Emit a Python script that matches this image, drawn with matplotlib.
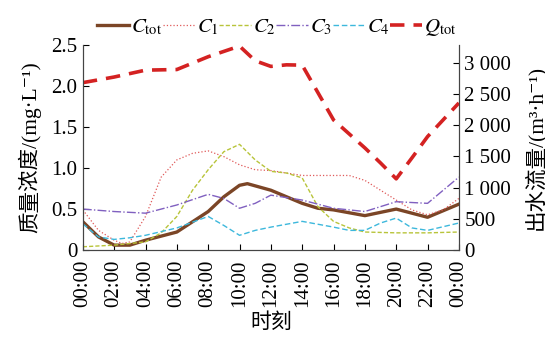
import matplotlib
matplotlib.use("Agg")
import matplotlib.pyplot as plt

plt.rcParams['font.family'] = ['Liberation Serif', 'DejaVu Serif', 'Noto Sans CJK SC']
plt.rcParams['mathtext.fontset'] = 'stix'

hours_tot = [0, 1, 2, 3, 4, 6, 8, 9, 10, 10.5, 12, 14, 15, 16, 18, 20, 22, 24]
c_tot = [0.345, 0.16, 0.06, 0.06, 0.12, 0.22, 0.47, 0.65, 0.79, 0.81, 0.73, 0.57, 0.51, 0.49, 0.42, 0.50, 0.40, 0.56]

hours_c1 = [0, 1, 2, 2.5, 3, 4, 5, 6, 7, 8, 9, 10, 11, 12, 14, 16, 17, 18, 19, 20, 21, 22, 23, 24]
c1 = [0.49, 0.24, 0.12, 0.08, 0.10, 0.41, 0.89, 1.10, 1.18, 1.21, 1.14, 1.04, 0.98, 0.97, 0.91, 0.91, 0.91, 0.85, 0.73, 0.61, 0.49, 0.43, 0.49, 0.63]

hours_c2 = [0, 2, 4, 5, 6, 7, 8, 9, 10, 11, 12, 13, 14, 15, 16, 17, 18, 20, 22, 24]
c2 = [0.04, 0.06, 0.10, 0.21, 0.41, 0.73, 0.98, 1.20, 1.29, 1.10, 0.96, 0.94, 0.88, 0.53, 0.35, 0.27, 0.22, 0.21, 0.21, 0.22]

hours_c3 = [0, 2, 4, 6, 8, 9, 10, 11, 12, 14, 16, 18, 20, 22, 23, 24]
c3 = [0.50, 0.47, 0.45, 0.55, 0.68, 0.63, 0.51, 0.57, 0.67, 0.61, 0.51, 0.47, 0.59, 0.57, 0.73, 0.89]

hours_c4 = [0, 1, 2, 3, 4, 6, 8, 9, 10, 11, 12, 14, 16, 17, 18, 19, 20, 21, 22, 24]
c4 = [0.32, 0.16, 0.13, 0.15, 0.18, 0.27, 0.41, 0.30, 0.18, 0.24, 0.28, 0.35, 0.28, 0.24, 0.24, 0.33, 0.39, 0.27, 0.24, 0.33]

hours_q = [0, 2, 4, 6, 8, 10, 11, 12, 13, 14, 16, 18, 19, 20, 21, 22, 24]
q_tot = [2680, 2770, 2880, 2890, 3095, 3265, 3030, 2940, 2965, 2960, 2083, 1635, 1394, 1140, 1474, 1816, 2355]

xticklabels = ['00:00', '02:00', '04:00', '06:00', '08:00', '10:00', '12:00',
               '14:00', '16:00', '18:00', '20:00', '22:00', '00:00']
left_ticks = [0, 0.5, 1.0, 1.5, 2.0, 2.5]
left_ticklabels = ['0', '0.5', '1.0', '1.5', '2.0', '2.5']
right_ticks = [0, 500, 1000, 1500, 2000, 2500, 3000]
right_ticklabels = ['0', '500', '1 000', '1 500', '2 000', '2 500', '3 000']

fig = plt.figure(figsize=(5.45, 3.37), dpi=100)
ax = fig.add_axes([0.152, 0.258, 0.69, 0.608])
ax2 = ax.twinx()

l0, = ax.plot(hours_tot, c_tot, color='#7B4526', lw=2.4, label=r'$C_{\rm tot}$')
l1, = ax.plot(hours_c1, c1, color='#E05A5A', lw=0.9, ls=':', label=r'$C_1$')
l2, = ax.plot(hours_c2, c2, color='#B8C43A', lw=1.0, ls=(0, (3, 1.5)), label=r'$C_2$')
l3, = ax.plot(hours_c3, c3, color='#8060C0', lw=1.0, ls='-.', label=r'$C_3$')
l4, = ax.plot(hours_c4, c4, color='#3DB8DC', lw=1.0, ls=(0, (4, 2)), label=r'$C_4$')
l5, = ax2.plot(hours_q, q_tot, color='#D42222', lw=2.6, ls=(0, (4, 2.5)), label=r'$Q_{\rm tot}$')

ax.set_xlim(0, 24)
ax.set_ylim(0, 2.5)
ax2.set_ylim(0, 3280)

ax.set_xticks(range(0, 25, 2))
ax.set_xticklabels(xticklabels, rotation=90, fontsize=15)
ax.set_yticks(left_ticks)
ax.set_yticklabels(left_ticklabels, fontsize=15)
ax2.set_yticks(right_ticks)
ax2.set_yticklabels(right_ticklabels, fontsize=15)

for a in (ax, ax2):
    a.tick_params(direction='in', length=4, width=0.8, pad=4)
    a.spines['top'].set_visible(False)
    for s in a.spines.values():
        s.set_color('#444444')
        s.set_linewidth(0.8)
ax.tick_params(axis='x', pad=7)

ax.set_xlabel('时刻', fontsize=15, labelpad=4)
ax.set_ylabel('质量浓度/(mg·L⁻¹)', fontsize=15.5, labelpad=7)
ax2.set_ylabel('出水流量/(m³·h⁻¹)', fontsize=15.5, labelpad=9)

handles = [l0, l1, l2, l3, l4, l5]
fig.legend(handles, [h.get_label() for h in handles], loc='center',
           bbox_to_anchor=(0.508, 0.918), ncol=6, frameon=False, fontsize=15,
           handlelength=1.55, handletextpad=0.1, columnspacing=0.0,
           borderpad=0.1)

fig.savefig('out.png', dpi=100)
